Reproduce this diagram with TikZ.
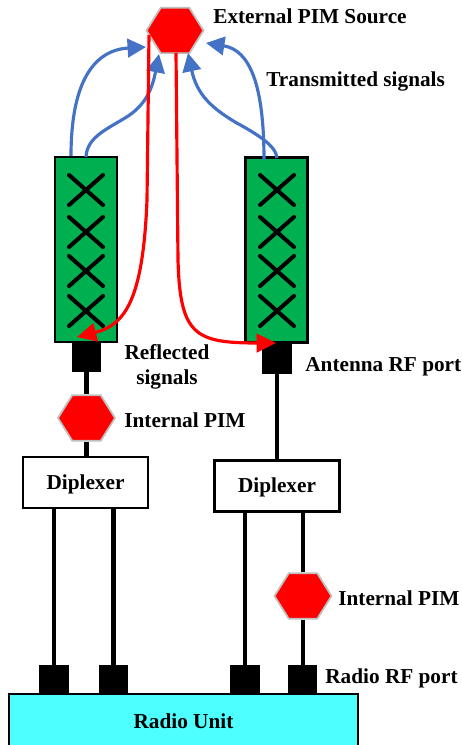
\documentclass[tikz,border=0pt]{standalone}
\usepackage{fontspec}
\setmainfont{Liberation Serif}
\usetikzlibrary{shapes.geometric, arrows.meta}
\definecolor{antgreen}{HTML}{00B050}
\definecolor{txblue}{HTML}{4472C4}
\definecolor{hexgray}{HTML}{BFBFBF}
\definecolor{radiocyan}{HTML}{4DFFFF}
\tikzset{
  pimhex/.style={regular polygon, regular polygon sides=6, minimum size=1.14cm, inner sep=0pt, yscale=.92, transform shape, fill=red, draw=hexgray, line width=1pt},
  antbox/.style={rectangle, draw=black, fill=antgreen, line width=1.2pt, minimum width=1.24cm, minimum height=3.7cm, inner sep=0pt},
  portbox/.style={rectangle, fill=black, minimum width=.6cm, minimum height=.6cm, inner sep=0pt},
  diplexbox/.style={rectangle, draw=black, line width=1.2pt, fill=white, minimum width=2.5cm, minimum height=1.02cm, inner sep=0pt, text height=10.2pt, font=\bfseries\fontsize{12.1}{14}\selectfont},
  lbl/.style={inner sep=0pt, anchor=west, font=\bfseries\fontsize{12.1}{14}\selectfont},
  feed/.style={line width=2.3pt},
  cross/.style={line width=2.3pt, line cap=round},
  txarrow/.style={txblue, line width=1.8pt, -{Triangle[length=10.5pt,width=10.5pt]}},
  rxarrow/.style={red, line width=1.8pt, -{Triangle[length=11pt,width=10.5pt]}}
}

\begin{document}
\begin{tikzpicture}[x=0.02cm, y=-0.02cm]
    \useasboundingbox (0, 0) rectangle (462, 745);
    % antennas and their ports
    \node[antbox] (antL) at (86, 249.5) {};
    \node[antbox] (antR) at (276.5, 250) {};
    \node[portbox] (portL) at (86.5, 357) {};
    \node[portbox] (portR) at (276.9, 359) {};
    \foreach \y in {190, 232, 271, 311} {
      \draw[cross] (69, \y-15) -- (103, \y+15);
      \draw[cross] (69, \y+15) -- (103, \y-15);
      \draw[cross] (260, \y-15) -- (294, \y+15);
      \draw[cross] (260, \y+15) -- (294, \y-15);
    }
    % PIM sources
    \node[pimhex] (extPim) at (175, 30.5) {};
    \node[pimhex] (intPimL) at (86.5, 418) {};
    \node[pimhex] (intPimR) at (303, 596) {};
    % diplexers and radio
    \node[diplexbox] (dipL) at (85.5, 482.5) {Diplexer};
    \node[diplexbox] (dipR) at (277, 486) {Diplexer};
    \node[rectangle, draw=black, fill=radiocyan, line width=1.2pt, minimum width=6.98cm, minimum height=1.04cm, inner sep=0pt, text height=10pt, font=\bfseries\fontsize{12.1}{14}\selectfont] (radio) at (183.5, 720) {Radio Unit};
    \node[portbox] (rfA) at (53.8, 680) {};
    \node[portbox] (rfB) at (113.5, 680) {};
    \node[portbox] (rfC) at (245, 680) {};
    \node[portbox] (rfD) at (302.5, 680) {};
    % feed lines
    \draw[feed] (portL) -- (intPimL);
    \draw[feed] (intPimL) -- (intPimL |- dipL.north);
    \draw[feed] (portR) -- (portR |- dipR.north);
    \draw[feed] (rfA) -- (rfA |- dipL.south);
    \draw[feed] (rfB) -- (rfB |- dipL.south);
    \draw[feed] (rfC) -- (rfC |- dipR.south);
    \draw[feed] (intPimR) -- (intPimR |- dipR.south);
    \draw[feed] (intPimR) -- (intPimR |- rfD.north);
    % transmitted signals
    \coordinate (txLa) at (71, 156);
    \coordinate (txLb) at (86, 157);
    \coordinate (txRa) at (264, 160);
    \coordinate (txRb) at (277, 158);
    \draw[txarrow] (txLa) .. controls (71, 80) and (95, 50) .. (146, 47);
    \draw[txarrow] (txLb) .. controls (87, 138) and (105, 130) .. (125, 118) .. controls (145, 106) and (152, 90) .. (159, 54);
    \draw[txarrow] (txRa) .. controls (264, 85) and (250, 50) .. (206, 43);
    \draw[txarrow] (txRb) .. controls (276, 145) and (255, 133) .. (235, 122) .. controls (212, 108) and (197, 95) .. (188, 53);
    % reflected signals
    \coordinate (rxLa) at (149, 35);
    \coordinate (rxRa) at (176, 53);
    \draw[rxarrow] (rxLa) -- (147, 200) .. controls (143, 300) and (125, 325) .. (77, 337);
    \draw[rxarrow] (rxRa) -- (178, 260) .. controls (180, 335) and (195, 343) .. (276, 343);
    % labels
    \node[lbl] (extLbl) at (213, 16) {External PIM Source};
    \node[lbl] (txLbl) at (266, 81) {Transmitted signals};
    \node[lbl, anchor=center, align=center] (rxLbl) at (167, 367) {Reflected\\signals};
    \node[lbl] (intLblL) at (124, 420) {Internal PIM};
    \node[lbl] (antLbl) at (305, 367) {Antenna RF port};
    \node[lbl] (intLblR) at (338, 598) {Internal PIM};
    \node[lbl] (rfLbl) at (325, 678) {Radio RF port};
  \end{tikzpicture}
\end{document}
